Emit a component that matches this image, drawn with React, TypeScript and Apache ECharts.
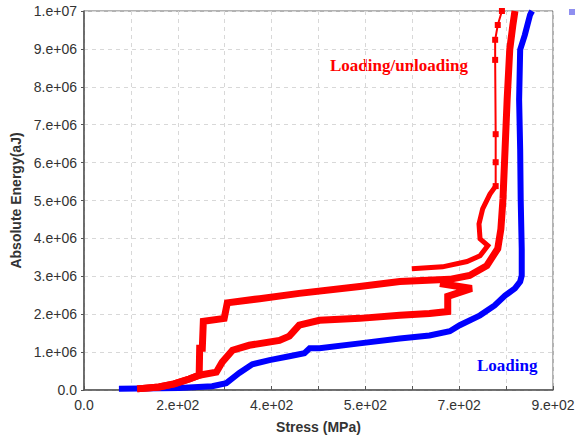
import React, { useEffect, useRef } from "react";
import * as echarts from "echarts";

// Energies are stored in units of 1e6 aJ
const ENERGY_UNIT = 1e6;

const xTickValues = [0, 180, 360, 540, 720, 900];
const xTickLabels = ["0.0", "2.e+02", "4.e+02", "5.e+02", "7.e+02", "9.e+02"];
const yTickLabels = ["0.0", "1.e+06", "2.e+06", "3.e+06", "4.e+06", "5.e+06", "6.e+06", "7.e+06", "8.e+06", "9.e+06", "1.e+07"];

// Loading (blue)
const loadingCurve: [number, number][] = [
  [67, 0.03], [183, 0.05], [246, 0.1], [273, 0.18], [298, 0.45], [323, 0.68], [356, 0.79],
  [394, 0.89], [423, 0.97], [433, 1.1], [452, 1.1], [529, 1.23], [606, 1.36], [663, 1.44],
  [702, 1.55], [721, 1.71], [760, 1.97], [788, 2.23], [808, 2.49], [827, 2.68], [837, 2.86],
  [840, 3.02], [840, 3.73], [838, 5.04], [837, 6.35], [835, 7.66], [837, 8.98], [846, 9.37],
  [856, 9.9], [860, 10.0],
];

// Loading/unloading (red) - lower branch
const unloadLower: [number, number][] = [
  [102, 0.03], [144, 0.08], [173, 0.16], [202, 0.29], [221, 0.39], [254, 0.47], [265, 0.73],
  [285, 1.05], [317, 1.18], [375, 1.31], [394, 1.42], [413, 1.71], [452, 1.84], [529, 1.89],
  [606, 1.97], [663, 2.02], [698, 2.07], [698, 2.47], [744, 2.68], [683, 2.81],
];

// Loading/unloading (red) - upper branch
const unloadUpper: [number, number][] = [
  [102, 0.03], [144, 0.08], [173, 0.16], [202, 0.29], [221, 0.39], [222, 1.1], [227, 1.1],
  [229, 1.81], [269, 1.89], [275, 2.3], [337, 2.41], [413, 2.55], [529, 2.73], [606, 2.86],
  [702, 2.92], [740, 3.02], [773, 3.28], [794, 3.73], [800, 4.25], [804, 5.04], [808, 6.35],
  [812, 7.66], [817, 8.98], [823, 9.63], [827, 10.0],
];

// Loading/unloading (red) - inner reloading branch
const unloadInner: [number, number][] = [
  [629, 3.2], [688, 3.25], [735, 3.39], [760, 3.54], [775, 3.81], [760, 3.99], [758, 4.38],
  [765, 4.78], [779, 5.17], [790, 5.38],
];
const unloadInnerTop: [number, number][] = [
  [790, 5.38], [790, 6.01], [790, 6.75], [789, 8.71], [789, 9.24], [794, 9.63], [802, 10.0],
];

const toEnergy = (pts: [number, number][]) => pts.map(([s, e]) => [s, e * ENERGY_UNIT]);

export default function App() {
  const ref = useRef<HTMLDivElement>(null);
  useEffect(() => {
    if (!ref.current) return;
    const chart = echarts.init(ref.current, null, { renderer: "svg" });
    const sans = "'Liberation Sans', Arial, sans-serif";
    const serif = "'Liberation Serif', 'Times New Roman', serif";
    const thick = (data: [number, number][], color: string, width = 6) => ({
      type: "line",
      data: toEnergy(data),
      showSymbol: false,
      symbol: "none",
      lineStyle: { color, width, join: "miter" },
      itemStyle: { color },
      z: 3,
    });
    chart.setOption({
      animation: false,
      backgroundColor: "#ffffff",
      grid: {
        left: 84, right: 32, top: 11, bottom: 46,
        show: true, borderColor: "#666", borderWidth: 1, backgroundColor: "transparent",
      },
      xAxis: {
        type: "value", min: 0, max: 900, interval: 90,
        name: "Stress (MPa)", nameLocation: "middle", nameGap: 30,
        nameTextStyle: { fontFamily: sans, fontSize: 14, fontWeight: "bold", color: "#333" },
        axisLine: { show: true, lineStyle: { color: "#555", width: 1.5 } },
        axisTick: { show: true, inside: true, length: 4, lineStyle: { color: "#555" } },
        axisLabel: {
          fontFamily: sans, fontSize: 14, color: "#333", margin: 8,
          formatter: (v: number) => {
            const i = xTickValues.indexOf(Math.round(v));
            return i >= 0 ? xTickLabels[i] : "";
          },
        },
        splitLine: { show: true, lineStyle: { color: "#d8d8d8", type: [4, 4] } },
      },
      yAxis: {
        type: "value", min: 0, max: 10 * ENERGY_UNIT, interval: ENERGY_UNIT,
        name: "Absolute Energy(aJ)", nameLocation: "middle", nameGap: 54,
        nameTextStyle: { fontFamily: sans, fontSize: 14, fontWeight: "bold", color: "#333" },
        axisLine: { show: true, lineStyle: { color: "#555", width: 1.5 } },
        axisTick: { show: true, length: 3, lineStyle: { color: "#555" } },
        axisLabel: {
          fontFamily: sans, fontSize: 14, color: "#333", margin: 7,
          formatter: (v: number) => yTickLabels[Math.round(v / ENERGY_UNIT)] ?? "",
        },
        splitLine: { show: true, lineStyle: { color: "#d8d8d8", type: [4, 4] } },
      },
      series: [
        thick(loadingCurve, "#0000ff", 6),
        thick(unloadLower, "#ff0000", 7),
        thick(unloadUpper, "#ff0000", 7),
        thick(unloadInner, "#ff0000", 5),
        {
          type: "line",
          data: toEnergy(unloadInnerTop),
          symbol: "rect",
          symbolSize: 6,
          showSymbol: true,
          lineStyle: { color: "#ff0000", width: 2 },
          itemStyle: { color: "#ff0000" },
          z: 3,
        },
      ],
      graphic: [
        {
          type: "text", left: 330, top: 57,
          style: { text: "Loading/unloading", fill: "#ff0000", font: `bold 17px ${serif}` },
        },
        {
          type: "text", left: 477, top: 357,
          style: { text: "Loading", fill: "#0000ff", font: `bold 17px ${serif}` },
        },
        { type: "rect", shape: { x: 569, y: 9, width: 6, height: 6 }, style: { fill: "#8f8ff0" } },
      ],
    });
    return () => chart.dispose();
  }, []);
  return (
    <div
      ref={ref}
      style={{ position: "fixed", left: 0, top: 0, width: 585, height: 439, background: "#fff" }}
    />
  );
}
